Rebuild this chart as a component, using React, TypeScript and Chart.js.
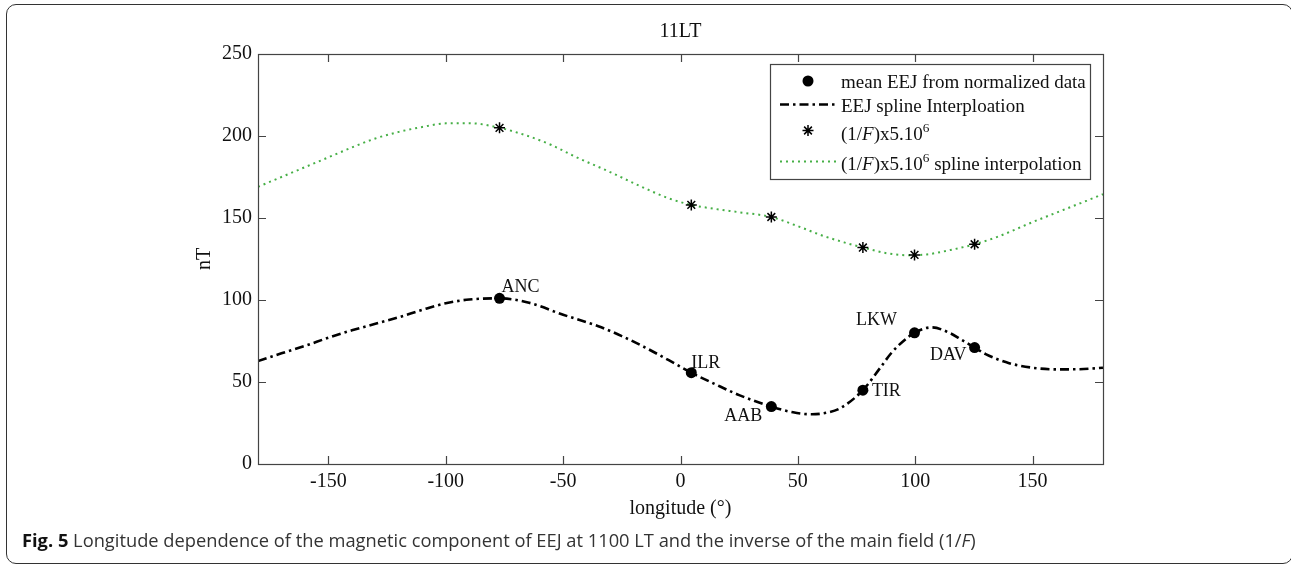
import React, { useEffect, useRef } from 'react';
import { Chart, registerables } from 'chart.js';
Chart.register(...registerables);

// ---------- data ----------
const stationNames = ['ANC', 'ILR', 'AAB', 'TIR', 'LKW', 'DAV'];
const stationLon = [-77.1, 4.6, 38.7, 77.7, 99.7, 125.3];
const eejMean = [101, 55.7, 35, 45, 80, 71];
const invF = [205, 158, 150.6, 132, 127.5, 134];

const eejSplineLon = [-180, -170, -160, -150, -140, -130, -120, -110, -100, -90, -77.1, -65, -50, -35, -25, -15, -5, 4.6, 15, 25, 38.7, 48, 56, 62, 68, 77.7, 85, 90, 95, 99.7, 107, 115, 120, 125.3, 130, 140, 150, 160, 170, 180];
const eejSplineVal = [62.8, 67.5, 72, 77, 81.5, 85.5, 89.5, 94, 98, 100.3, 101, 98.5, 91, 84, 78, 71, 63.3, 55.7, 48.5, 42, 35, 31.5, 30.3, 31.2, 34, 45, 58.5, 68, 75, 80, 83.3, 79.7, 75.5, 71, 67, 61.5, 58.7, 57.7, 57.8, 58.7];

const invFSplineLon = [-180, -170, -160, -150, -140, -130, -120, -110, -100, -90, -77.1, -65, -55, -45, -30, -15, -5, 4.6, 15, 25, 38.7, 50, 60, 70, 77.7, 88, 97, 105, 115, 125.3, 135, 150, 165, 180];
const invFSplineVal = [169, 175, 181, 187, 193, 198.5, 202.5, 205.5, 207.7, 207.8, 205, 200, 194.5, 187.5, 178, 168, 162, 158, 155.5, 153.5, 150.6, 145, 139.5, 135, 132, 128.5, 127.3, 127.8, 130.5, 134, 138.5, 147.5, 156, 164.5];

const xTicks = [-150, -100, -50, 0, 50, 100, 150];
const yTicks = [0, 50, 100, 150, 200, 250];

// label placement (pixels relative to the marker): [dx, dy, align]
const labelPlacement: [number, number, CanvasTextAlign][] = [
  [2, -6, 'left'],
  [0, -4.7, 'left'],
  [-9, 14, 'right'],
  [9, 6, 'left'],
  [-17.6, -7.7, 'right'],
  [-8, 12.3, 'right'],
];

const SERIF = "'Liberation Serif', 'Times New Roman', serif";
const GREEN = 'rgb(70,175,70)';

type Part = { t: string; italic?: boolean; sup?: boolean };

function drawRich(ctx: CanvasRenderingContext2D, x: number, y: number, parts: Part[], size: number) {
  let cx = x;
  ctx.textAlign = 'left';
  ctx.textBaseline = 'alphabetic';
  for (const p of parts) {
    const fs = p.sup ? size * 0.7 : size;
    ctx.font = `${p.italic ? 'italic ' : ''}${fs}px ${SERIF}`;
    ctx.fillText(p.t, cx, p.sup ? y - size * 0.42 : y);
    cx += ctx.measureText(p.t).width;
  }
}

function drawStar(ctx: CanvasRenderingContext2D, x: number, y: number, r: number) {
  ctx.beginPath();
  for (let k = 0; k < 4; k++) {
    const a = (k * Math.PI) / 4;
    ctx.moveTo(x - Math.cos(a) * r, y - Math.sin(a) * r);
    ctx.lineTo(x + Math.cos(a) * r, y + Math.sin(a) * r);
  }
  ctx.stroke();
}

export default function App() {
  const ref = useRef<HTMLCanvasElement>(null);

  useEffect(() => {
    const canvas = ref.current;
    if (!canvas) return;

    const overlay = {
      id: 'overlay',
      afterDraw(chart: any) {
        const { ctx, chartArea: a, scales } = chart;
        const xs = scales.x;
        const ys = scales.y;
        ctx.save();
        // axes box
        ctx.strokeStyle = '#444';
        ctx.lineWidth = 1.2;
        ctx.setLineDash([]);
        ctx.strokeRect(Math.round(a.left) + 0.5, Math.round(a.top) + 0.5, a.right - a.left, a.bottom - a.top);
        // inward ticks
        ctx.beginPath();
        const tl = 8;
        for (const v of xTicks) {
          const px = Math.round(xs.getPixelForValue(v)) + 0.5;
          ctx.moveTo(px, a.bottom);
          ctx.lineTo(px, a.bottom - tl);
          ctx.moveTo(px, a.top);
          ctx.lineTo(px, a.top + tl);
        }
        for (const v of yTicks) {
          const py = Math.round(ys.getPixelForValue(v)) + 0.5;
          ctx.moveTo(a.left, py);
          ctx.lineTo(a.left + tl, py);
          ctx.moveTo(a.right, py);
          ctx.lineTo(a.right - tl, py);
        }
        ctx.stroke();

        ctx.fillStyle = '#111';
        // title
        ctx.font = `20px ${SERIF}`;
        ctx.textAlign = 'center';
        ctx.textBaseline = 'alphabetic';
        ctx.fillText('11LT', (a.left + a.right) / 2, 37);
        // x axis title
        ctx.fillText('longitude (°)', (a.left + a.right) / 2, 514);
        // y axis title
        ctx.save();
        ctx.translate(210, (a.top + a.bottom) / 2);
        ctx.rotate(-Math.PI / 2);
        ctx.textAlign = 'center';
        ctx.fillText('nT', 0, 0);
        ctx.restore();

        // station labels
        ctx.font = `18px ${SERIF}`;
        ctx.textBaseline = 'alphabetic';
        stationNames.forEach((name, i) => {
          const [dx, dy, al] = labelPlacement[i];
          ctx.textAlign = al;
          ctx.fillText(name, xs.getPixelForValue(stationLon[i]) + dx, ys.getPixelForValue(eejMean[i]) + dy);
        });

        // legend
        const lx = 770.5, ly = 64.5, lw = 320, lh = 115;
        ctx.fillStyle = '#fff';
        ctx.fillRect(lx, ly, lw, lh);
        ctx.strokeStyle = '#444';
        ctx.lineWidth = 1.2;
        ctx.strokeRect(lx, ly, lw, lh);
        ctx.fillStyle = '#111';
        const tx = 841;
        const fs = 19;
        // row 1
        ctx.beginPath();
        ctx.arc(808, 81, 5.5, 0, Math.PI * 2);
        ctx.fillStyle = '#000';
        ctx.fill();
        ctx.fillStyle = '#111';
        drawRich(ctx, tx, 88, [{ t: 'mean EEJ from normalized data' }], fs);
        // row 2
        ctx.strokeStyle = '#000';
        ctx.lineWidth = 2.5;
        ctx.setLineDash([9, 4, 2.5, 4]);
        ctx.beginPath();
        ctx.moveTo(780, 104.5);
        ctx.lineTo(836, 104.5);
        ctx.stroke();
        drawRich(ctx, tx, 112, [{ t: 'EEJ spline Interploation' }], fs);
        // row 3
        ctx.setLineDash([]);
        ctx.lineWidth = 1.5;
        drawStar(ctx, 808, 130.5, 5.5);
        drawRich(ctx, tx, 140, [{ t: '(1/' }, { t: 'F', italic: true }, { t: ')x5.10' }, { t: '6', sup: true }], fs);
        // row 4
        ctx.strokeStyle = GREEN;
        ctx.lineWidth = 2;
        ctx.setLineDash([2, 4]);
        ctx.beginPath();
        ctx.moveTo(780, 161.5);
        ctx.lineTo(836, 161.5);
        ctx.stroke();
        ctx.setLineDash([]);
        drawRich(ctx, tx, 170, [{ t: '(1/' }, { t: 'F', italic: true }, { t: ')x5.10' }, { t: '6', sup: true }, { t: ' spline interpolation' }], fs);

        ctx.restore();
      },
    };

    const tickFont = { family: SERIF, size: 20 };

    const chart = new Chart(canvas, {
      type: 'scatter',
      data: {
        datasets: [
          {
            label: 'mean EEJ from normalized data',
            data: stationLon.map((x, i) => ({ x, y: eejMean[i] })),
            showLine: false,
            pointStyle: 'circle',
            pointRadius: 5.5,
            backgroundColor: '#000',
            borderColor: '#000',
            borderWidth: 0,
            order: 0,
          },
          {
            label: 'EEJ spline Interploation',
            data: eejSplineLon.map((x, i) => ({ x, y: eejSplineVal[i] })),
            showLine: true,
            pointRadius: 0,
            borderColor: '#000',
            borderWidth: 2.6,
            borderDash: [9, 4, 2.5, 4],
            cubicInterpolationMode: 'monotone',
            order: 2,
          },
          {
            label: '(1/F)x5.10^6',
            data: stationLon.map((x, i) => ({ x, y: invF[i] })),
            showLine: false,
            pointStyle: 'star',
            pointRadius: 5.5,
            borderColor: '#000',
            backgroundColor: '#000',
            borderWidth: 1.5,
            order: 0,
          },
          {
            label: '(1/F)x5.10^6 spline interpolation',
            data: invFSplineLon.map((x, i) => ({ x, y: invFSplineVal[i] })),
            showLine: true,
            pointRadius: 0,
            borderColor: GREEN,
            borderWidth: 2,
            borderDash: [2, 4],
            cubicInterpolationMode: 'monotone',
            order: 2,
          },
        ] as any,
      },
      options: {
        responsive: false,
        animation: false,
        devicePixelRatio: 1,
        events: [],
        layout: { autoPadding: false, padding: { left: 0, top: 54, right: 188, bottom: 0 } },
        plugins: { legend: { display: false }, title: { display: false }, tooltip: { enabled: false } },
        scales: {
          x: {
            type: 'linear',
            min: -180,
            max: 180,
            afterBuildTicks: (s: any) => {
              s.ticks = xTicks.map((v) => ({ value: v }));
            },
            afterFit: (s: any) => {
              s.height = 102;
            },
            grid: { display: false, drawTicks: false },
            border: { display: false },
            ticks: { font: tickFont, color: '#111', padding: 6, maxRotation: 0, autoSkip: false },
          },
          y: {
            type: 'linear',
            min: 0,
            max: 250,
            afterBuildTicks: (s: any) => {
              s.ticks = yTicks.map((v) => ({ value: v }));
            },
            afterFit: (s: any) => {
              s.width = 258;
            },
            grid: { display: false, drawTicks: false },
            border: { display: false },
            ticks: { font: tickFont, color: '#111', padding: 6, autoSkip: false },
          },
        },
      } as any,
      plugins: [overlay],
    });
    return () => chart.destroy();
  }, []);

  return (
    <div style={{ position: 'absolute', left: 0, top: 0, width: 1291, height: 566, background: '#fff', overflow: 'hidden' }}>
      <canvas ref={ref} width={1291} height={566} style={{ position: 'absolute', left: 0, top: 0, width: 1291, height: 566 }} />
      <div
        style={{
          position: 'absolute',
          left: 6,
          top: 4,
          width: 1287,
          height: 560,
          boxSizing: 'border-box',
          border: '1.5px solid #333',
          borderRadius: 10,
        }}
      />
      <div
        style={{
          position: 'absolute',
          left: 22,
          top: 528,
          font: "18.3px 'Open Sans', 'Noto Sans', sans-serif",
          lineHeight: '24px',
          color: '#333',
          whiteSpace: 'nowrap',
        }}
      >
        <b style={{ color: '#111' }}>Fig. 5</b> Longitude dependence of the magnetic component of EEJ at 1100 LT and the inverse of the main field (1/<i>F</i>)
      </div>
    </div>
  );
}
